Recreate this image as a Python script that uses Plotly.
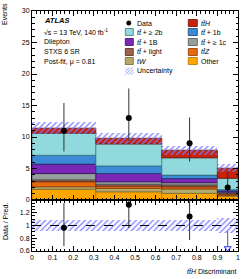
import plotly.graph_objects as go

# ---------------- data ----------------
bin_edges = [0.0, 0.31, 0.63, 0.9, 1.0]

other    = [1.70, 1.30, 1.05, 0.60]
tw       = [0.40, 0.55, 0.70, 0.15]
ttz      = [0.80, 0.35, 0.35, 0.20]
tt_light = [0.30, 0.30, 0.30, 0.15]
tt_1c    = [1.00, 0.40, 0.35, 0.15]
tt_1B    = [1.50, 1.30, 0.65, 0.20]
tt_1b    = [1.40, 1.20, 0.55, 0.20]
tt_2b    = [3.50, 3.50, 2.75, 1.80]
tth      = [0.80, 0.90, 1.20, 1.60]

uncertainty = [1.0, 0.9, 0.7, 0.6]

data_counts = [11, 13, 9, 2]
data_err_up = [4.4, 4.7, 4.1, 2.6]
data_err_dn = [3.3, 3.6, 2.9, 1.3]

x_ticks = [0, 0.1, 0.2, 0.3, 0.4, 0.5, 0.6, 0.7, 0.8, 0.9, 1]
x_tick_labels = ["0", "0.1", "0.2", "0.3", "0.4", "0.5", "0.6", "0.7", "0.8", "0.9", "1"]
y_ticks = [0, 5, 10, 15, 20, 25, 30]
ratio_ticks = [0.6, 0.8, 1.0, 1.2]
ratio_tick_labels = ["0.6", "0.8", "1", "1.2"]

# ---------------- styles ----------------
components = [
    ("Other", other, "#ffa500", "#b07000"),
    ("tW", tw, "#b5aa6b", "#6e6630"),
    ("ttZ", ttz, "#e8680e", "#8a3a00"),
    ("tt+light", tt_light, "#a2614c", "#4d2a1e"),
    ("tt+>=1c", tt_1c, "#95a09e", "#4a5452"),
    ("tt+1B", tt_1B, "#7b27b5", "#3a0d5e"),
    ("tt+1b", tt_1b, "#3d8ad6", "#163f6b"),
    ("tt+>=2b", tt_2b, "#92d9dd", "#3d7a7e"),
    ("ttH", tth, "#c8230a", "#6a1000"),
]
HATCH = "#7a7aff"
FONT = "Liberation Sans, Arial, sans-serif"

centers = [(a + b) / 2 for a, b in zip(bin_edges[:-1], bin_edges[1:])]
widths = [b - a for a, b in zip(bin_edges[:-1], bin_edges[1:])]
nb = len(centers)

fig = go.Figure()

# stacked histogram
cum = [0.0] * nb
for name, vals, col, lcol in components:
    fig.add_trace(go.Bar(
        x=centers, y=vals, base=list(cum), width=widths, name=name,
        marker=dict(color=col, line=dict(color=lcol, width=0.8)),
        opacity=1, xaxis="x", yaxis="y", showlegend=False, hoverinfo="skip"))
    cum = [c + v for c, v in zip(cum, vals)]
total = cum

# uncertainty band (main)
fig.add_trace(go.Bar(
    x=centers, y=[2 * u for u in uncertainty],
    base=[t - u for t, u in zip(total, uncertainty)], width=widths,
    marker=dict(color="rgba(0,0,0,0)", line=dict(width=0),
                pattern=dict(shape="/", fgcolor=HATCH, bgcolor="rgba(0,0,0,0)",
                             size=4, solidity=0.3)),
    xaxis="x", yaxis="y", showlegend=False, hoverinfo="skip"))

# data
fig.add_trace(go.Scatter(
    x=centers, y=data_counts, mode="markers",
    marker=dict(color="black", size=6),
    error_y=dict(type="data", array=data_err_up, arrayminus=data_err_dn,
                 color="#333333", thickness=1, width=0),
    xaxis="x", yaxis="y", showlegend=False))

# ---------------- ratio panel ----------------
ratio_range = [0.6, 1.4]
fig.add_trace(go.Bar(
    x=centers, y=[2 * u / t for u, t in zip(uncertainty, total)],
    base=[1 - u / t for u, t in zip(uncertainty, total)], width=widths,
    marker=dict(color="rgba(0,0,0,0)", line=dict(width=0),
                pattern=dict(shape="/", fgcolor=HATCH, bgcolor="rgba(0,0,0,0)",
                             size=4, solidity=0.3)),
    xaxis="x2", yaxis="y2", showlegend=False, hoverinfo="skip"))

ratio = [d / t for d, t in zip(data_counts, total)]
r_up = [e / t for e, t in zip(data_err_up, total)]
r_dn = [e / t for e, t in zip(data_err_dn, total)]
inside = [i for i in range(nb) if ratio[i] >= ratio_range[0]]
below = [i for i in range(nb) if ratio[i] < ratio_range[0]]

fig.add_trace(go.Scatter(
    x=[centers[i] for i in inside], y=[ratio[i] for i in inside], mode="markers",
    marker=dict(color="black", size=6),
    error_y=dict(type="data", array=[r_up[i] for i in inside],
                 arrayminus=[r_dn[i] for i in inside],
                 color="#333333", thickness=1, width=0),
    xaxis="x2", yaxis="y2", showlegend=False, cliponaxis=True))

arrow_y = ratio_range[0] + 0.045
for i in below:
    fig.add_trace(go.Scatter(
        x=[centers[i], centers[i]], y=[ratio[i] + r_up[i], arrow_y + 0.02],
        mode="lines", line=dict(color="#555577", width=1),
        xaxis="x2", yaxis="y2", showlegend=False))
    fig.add_trace(go.Scatter(
        x=[centers[i]], y=[arrow_y], mode="markers",
        marker=dict(symbol="triangle-down-open", color="#5a5aff", size=6,
                    line=dict(width=1.2, color="#5a5aff")),
        xaxis="x2", yaxis="y2", showlegend=False))

fig.add_shape(type="line", xref="x2", yref="y2", x0=0, x1=1, y0=1, y1=1,
              line=dict(color="black", width=1, dash="dash"))

# ---------------- layout ----------------
L, R, T, B, W, H = 32, 11, 11, 28, 249, 279
pw, ph = W - L - R, H - T - B


def px(x):
    return (x - L) / pw


def py(y):
    return (H - B - y) / ph


split = py(200)

axis_common = dict(showline=True, linecolor="black", linewidth=1, mirror="allticks",
                   ticks="inside", tickcolor="black", showgrid=False, zeroline=False,
                   automargin=False,
                   tickfont=dict(size=7, family=FONT, color="black"))

fig.update_layout(
    template="none",
    width=W, height=H, margin=dict(l=L, r=R, t=T, b=B, pad=0, autoexpand=False),
    plot_bgcolor="white", paper_bgcolor="white",
    barmode="overlay", bargap=0, showlegend=False,
    font=dict(family=FONT, size=7, color="black"),
    xaxis=dict(domain=[0, 1], range=[0, 1], anchor="y", tickvals=x_ticks,
               showticklabels=False, ticklen=5,
               minor=dict(ticks="inside", ticklen=2.5, dtick=0.02, tick0=0,
                          tickcolor="black", showgrid=False),
               **axis_common),
    yaxis=dict(domain=[split, 1], range=[0, 30], anchor="x", tickvals=y_ticks,
               ticklen=5,
               minor=dict(ticks="inside", ticklen=2.5, dtick=1, tick0=0,
                          tickcolor="black", showgrid=False),
               **axis_common),
    xaxis2=dict(domain=[0, 1], range=[0, 1], anchor="y2", matches="x",
                tickvals=x_ticks, ticktext=x_tick_labels, ticklen=5,
                minor=dict(ticks="inside", ticklen=2.5, dtick=0.02, tick0=0,
                           tickcolor="black", showgrid=False),
                **axis_common),
    yaxis2=dict(domain=[0, split], range=ratio_range, anchor="x2",
                tickvals=ratio_ticks, ticktext=ratio_tick_labels, ticklen=5,
                minor=dict(ticks="inside", ticklen=2.5, dtick=0.05, tick0=0.6,
                           tickcolor="black", showgrid=False),
                **axis_common),
)

ann = []


def text(x, y, s, size=7, xanchor="left", angle=0):
    ann.append(dict(x=x, y=y, xref="paper", yref="paper", text=s, showarrow=False,
                    xanchor=xanchor, yanchor="middle", textangle=angle,
                    font=dict(size=size, family=FONT, color="black")))


# axis titles
text(px(5), py(14), "Events", xanchor="center", angle=-90)
text(px(5), py(222), "Data / Pred.", xanchor="center", angle=-90)
text(1.0, py(271), "<i>tt̄H</i> Discriminant", xanchor="right")

# ATLAS label block
text(px(42), py(21), "<b><i>ATLAS</i></b>", size=7.5)
text(px(42), py(32), "√s = 13 TeV, 140 fb<sup>-1</sup>")
text(px(42), py(42), "Dilepton")
text(px(42), py(52), "STXS 6 SR")
text(px(42), py(62), "Post-fit, μ = 0.81")

# manual legend
shapes = []
rows = [23, 32, 42, 52, 61, 71]
colmap = {name: (col, lcol) for name, _, col, lcol in components}
left_entries = [("tt+>=2b", "<i>tt̄</i> + ≥ 2b"), ("tt+1B", "<i>tt̄</i> + 1B"),
                ("tt+light", "<i>tt̄</i> + light"), ("tW", "<i>tW</i>")]
right_entries = [("ttH", "<i>tt̄H</i>"), ("tt+1b", "<i>tt̄</i> + 1b"),
                 ("tt+>=1c", "<i>tt̄</i> + ≥ 1c"), ("ttZ", "<i>tt̄Z</i>"),
                 ("Other", "Other")]


def swatch(x0, x1, yc, col, lcol):
    shapes.append(dict(type="rect", xref="paper", yref="paper",
                       x0=px(x0), x1=px(x1), y0=py(yc + 3.5), y1=py(yc - 3.5),
                       fillcolor=col, line=dict(color=lcol, width=0.8), layer="above"))


# Data entry
shapes.append(dict(type="circle", xref="paper", yref="paper",
                   x0=px(126.5), x1=px(131), y0=py(rows[0] + 2.3), y1=py(rows[0] - 2.3),
                   fillcolor="black", line=dict(color="black", width=0.5)))
text(px(135), py(rows[0]), "Data")
for k, (key, lab) in enumerate(left_entries):
    c, lc = colmap[key]
    swatch(125.3, 133.3, rows[k + 1], c, lc)
    text(px(135), py(rows[k + 1]), lab)
# Uncertainty entry (hatched)
yc = rows[5]
for off in [-6, -3, 0, 3, 6]:
    xa, xb = 125.3 + off, 125.3 + off + 7
    ya, yb = yc + 3.5, yc - 3.5
    if xa < 125.3:
        ya -= (125.3 - xa); xa = 125.3
    if xb > 133.3:
        yb += (xb - 133.3); xb = 133.3
    if xb > xa:
        shapes.append(dict(type="line", xref="paper", yref="paper",
                           x0=px(xa), x1=px(xb), y0=py(ya), y1=py(yb),
                           line=dict(color=HATCH, width=0.8)))
text(px(135), py(yc), "Uncertainty")

for k, (key, lab) in enumerate(right_entries):
    c, lc = colmap[key]
    swatch(188.3, 197.3, rows[k], c, lc)
    text(px(199), py(rows[k]), lab)

fig.update_layout(annotations=ann, shapes=fig.layout.shapes + tuple(shapes))

fig.write_html("out.html", config={"displayModeBar": False, "staticPlot": True},
               post_script="document.body.style.margin='0';document.body.style.overflow='hidden';")
